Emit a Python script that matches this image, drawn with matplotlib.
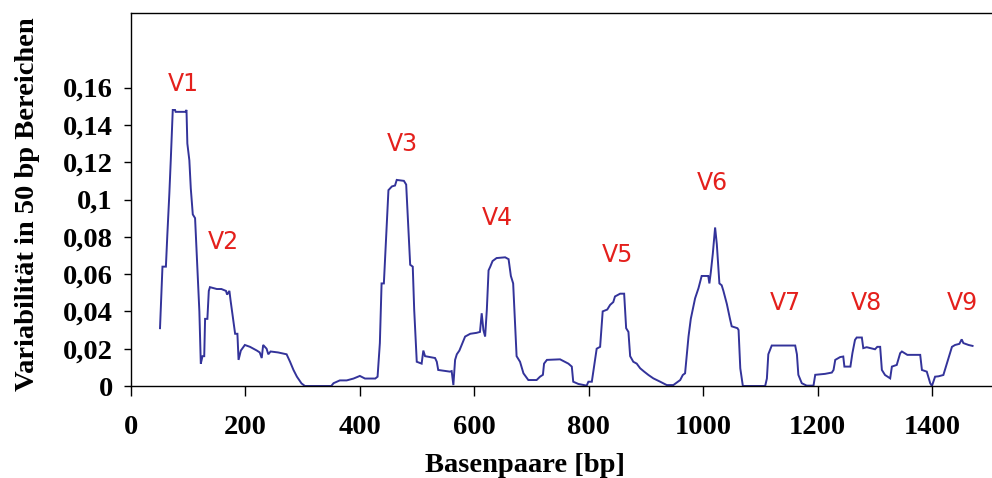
import matplotlib
matplotlib.use("Agg")
import matplotlib.pyplot as plt

# ---- data ----
bp = [50.7, 55, 61, 63.5, 67, 69.5, 73, 77, 78, 95, 97, 98.5, 102, 104.5, 108, 112, 115,
      119.5, 122, 125, 128, 129.5, 133.5, 136, 138, 150, 158, 166, 168, 172, 174, 182, 186,
      188, 192, 199, 208, 220, 225, 228.5, 231, 237, 240, 244, 257, 272, 278, 284, 290, 298,
      304, 350, 354, 365, 377, 389, 400, 409, 427, 431, 435, 438, 442, 446, 450, 456, 461.5,
      464.5, 477, 481, 485, 488, 492.5, 495, 499.5, 508, 511, 514, 531.5, 534.5, 537, 557.5,
      560.5, 563.5, 566.5, 569.5, 574, 578, 584, 593, 604, 610, 613, 616, 619, 622, 625, 628,
      632, 639, 654, 660, 664, 668, 674, 680, 686, 694.5, 709, 715, 720, 722, 727, 750, 764.5,
      770.5, 773, 782, 796.5, 799.5, 805.5, 814, 820, 824.5, 832.5, 837.5, 843, 846, 855, 862,
      865.5, 869.5, 872.5, 878, 884, 890, 897, 904.5, 913, 925, 936.5, 948, 960, 964.5, 968.5,
      974.5, 978.5, 986, 992, 997.5, 1009, 1011, 1013.5, 1017, 1021, 1024, 1028.5, 1032.5,
      1035.5, 1041.5, 1047, 1050, 1060, 1062, 1065, 1069.5, 1108.5, 1111.5, 1114, 1120, 1161,
      1164, 1166.5, 1172.5, 1181, 1193, 1196, 1213, 1225, 1228, 1231, 1239.5, 1245, 1247,
      1257.5, 1261, 1265.5, 1268.5, 1277.5, 1280, 1286, 1300.5, 1304.5, 1309.5, 1312.5, 1318,
      1327, 1330, 1338.5, 1344.5, 1347.5, 1357, 1379.5, 1382.5, 1391, 1397, 1400, 1405.5,
      1411.5, 1420, 1429, 1435, 1440.5, 1448, 1452, 1455, 1464, 1471]
variability = [0.031, 0.064, 0.064, 0.081, 0.103, 0.121, 0.148, 0.148, 0.147, 0.147, 0.148,
               0.130, 0.121, 0.106, 0.092, 0.090, 0.070, 0.040, 0.012, 0.016, 0.016, 0.036,
               0.036, 0.051, 0.053, 0.052, 0.052, 0.051, 0.049, 0.051, 0.046, 0.028, 0.028,
               0.014, 0.019, 0.022, 0.021, 0.019, 0.018, 0.015, 0.022, 0.020, 0.017, 0.0185,
               0.018, 0.017, 0.013, 0.0086, 0.005, 0.0014, 0.0, 0.0, 0.0015, 0.003, 0.003,
               0.004, 0.0054, 0.004, 0.004, 0.005, 0.023, 0.055, 0.055, 0.080, 0.105, 0.107,
               0.1075, 0.1105, 0.110, 0.108, 0.084, 0.065, 0.064, 0.041, 0.013, 0.012, 0.019,
               0.016, 0.015, 0.013, 0.0086, 0.0077, 0.008, 0.0005, 0.014, 0.017, 0.019, 0.022,
               0.0265, 0.028, 0.0285, 0.029, 0.039, 0.030, 0.0265, 0.041, 0.062, 0.064, 0.067,
               0.0686, 0.069, 0.068, 0.059, 0.055, 0.016, 0.013, 0.0068, 0.0032, 0.0032, 0.005,
               0.006, 0.012, 0.014, 0.0143, 0.012, 0.0104, 0.0023, 0.0011, 0.0002, 0.0023,
               0.0023, 0.020, 0.021, 0.040, 0.041, 0.0435, 0.045, 0.048, 0.0495, 0.0495, 0.031,
               0.029, 0.016, 0.013, 0.012, 0.0095, 0.0077, 0.0059, 0.0041, 0.0023, 0.0005,
               0.0005, 0.0032, 0.0059, 0.0068, 0.0265, 0.036, 0.047, 0.0525, 0.059, 0.059,
               0.055, 0.061, 0.071, 0.085, 0.076, 0.055, 0.054, 0.051, 0.044, 0.036, 0.032,
               0.031, 0.030, 0.0095, 0.0, 0.0, 0.004, 0.017, 0.0217, 0.0217, 0.017, 0.006,
               0.0015, 0.0002, 0.0002, 0.006, 0.0065, 0.0072, 0.0086, 0.014, 0.0155, 0.0158,
               0.0104, 0.0104, 0.0176, 0.0247, 0.026, 0.026, 0.0203, 0.0208, 0.0197, 0.021,
               0.021, 0.0086, 0.0059, 0.0041, 0.0104, 0.0113, 0.0176, 0.0185, 0.0167, 0.0167,
               0.0086, 0.0077, 0.0015, 0.0, 0.005, 0.0052, 0.0059, 0.0149, 0.021, 0.022,
               0.0226, 0.025, 0.023, 0.022, 0.0215]

region_names = ["V1", "V2", "V3", "V4", "V5", "V6", "V7", "V8", "V9"]
region_x = [91, 161, 475, 640, 850, 1017, 1143, 1285, 1454]
region_y = [0.162, 0.077, 0.130, 0.090, 0.070, 0.109, 0.0446, 0.0446, 0.0446]

x_ticks = [0, 200, 400, 600, 800, 1000, 1200, 1400]
y_ticks = [0, 0.02, 0.04, 0.06, 0.08, 0.10, 0.12, 0.14, 0.16]
y_tick_labels = ["0", "0,02", "0,04", "0,06", "0,08", "0,1", "0,12", "0,14", "0,16"]

serif = ["Liberation Serif", "DejaVu Serif"]
fs = 20.5

fig = plt.figure(figsize=(9.92, 4.78), dpi=100)
ax = fig.add_axes([131 / 992, 1 - 386 / 478, 1 - 131 / 992, (386 - 13) / 478])

ax.plot(bp, variability, color="#33339a", lw=1.4, solid_joinstyle="miter")

for name, xx, yy in zip(region_names, region_x, region_y):
    ax.text(xx, yy, name, color="#e4201c", fontsize=17, family="DejaVu Sans",
            ha="center", va="center")

ax.set_xlim(0, 1505)
ax.set_ylim(0, 0.2)
ax.set_xticks(x_ticks)
ax.set_xticklabels([str(t) for t in x_ticks])
ax.set_yticks(y_ticks)
ax.set_yticklabels(y_tick_labels)

for lab in ax.get_xticklabels() + ax.get_yticklabels():
    lab.set_family(serif)
    lab.set_fontweight("bold")
    lab.set_fontsize(fs)

ax.tick_params(axis="x", direction="out", length=7, width=1, pad=14, colors="black")
ax.tick_params(axis="y", direction="out", length=5, width=1, pad=8, colors="black")

ax.spines["right"].set_visible(False)
for s in ["left", "bottom", "top"]:
    ax.spines[s].set_linewidth(1.0)
    ax.spines[s].set_color("black")

ax.set_xlabel("Basenpaare [bp]", family=serif, fontweight="bold", fontsize=fs)
ax.xaxis.set_label_coords((525 - 131) / 861, (386 - 453) / 373)
ax.set_ylabel("Variabilität in 50 bp Bereichen", family=serif, fontweight="bold",
              fontsize=fs, va="center")
ax.yaxis.set_label_coords((28 - 131) / 861, (386 - 204) / 373)

fig.savefig("out.png", dpi=100)
